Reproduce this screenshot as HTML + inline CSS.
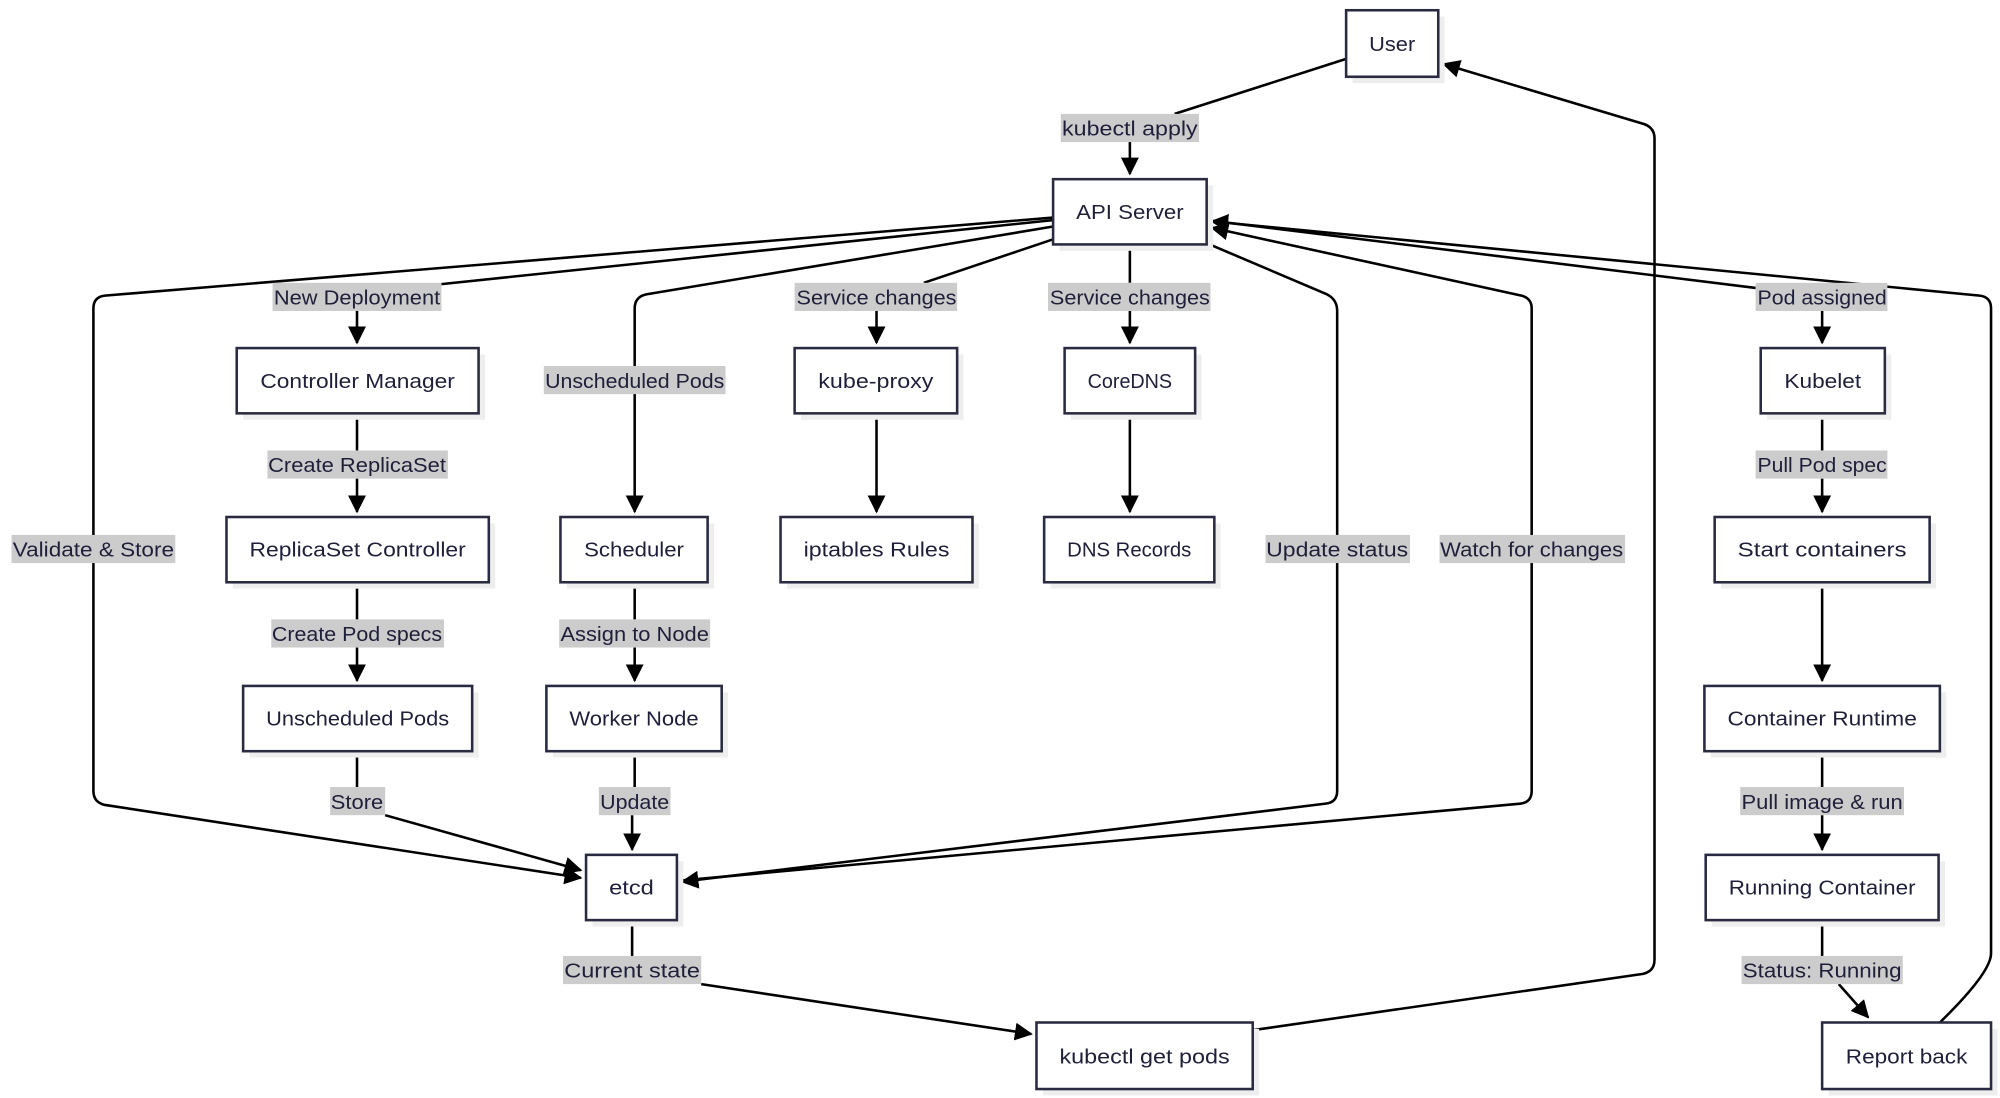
<!DOCTYPE html>
<html><head><meta charset="utf-8"><style>
html,body{margin:0;padding:0;background:#fff;}
svg{display:block;}
text{font-family:"Liberation Sans",sans-serif;font-size:16px;fill:#1f1f3a;}
</style></head><body>
<svg width="2000" height="1098" viewBox="0 0 1563 858" preserveAspectRatio="none" xmlns="http://www.w3.org/2000/svg">
<defs>
<marker id="a" markerUnits="userSpaceOnUse" markerWidth="14" markerHeight="14" viewBox="0 0 12 12" refX="11" refY="6" orient="auto">
<path d="M0,0 L12,6 L0,12 z" fill="#000"/>
</marker>
</defs>
<g fill="none" stroke="#000" stroke-width="2">
<path d="M1052,46 L918,89"/>
<path d="M883,111 L883,136" marker-end="url(#a)"/>
<path d="M823,172 L345,222"/>
<path d="M279,243 L279,268" marker-end="url(#a)"/>
<path d="M823,170 L82,231 Q73,232 73,241 L73,618 Q73,627 82,629 L454,686" marker-end="url(#a)"/>
<path d="M823,177 L505,230 Q496,232 496,241 L496,400" marker-end="url(#a)"/>
<path d="M823,187 L722,221"/>
<path d="M685,243 L685,268" marker-end="url(#a)"/>
<path d="M883,191 L883,221"/>
<path d="M883,243 L883,268" marker-end="url(#a)"/>
<path d="M943,172 L1372,225"/>
<path d="M1424,243 L1424,268" marker-end="url(#a)"/>
<path d="M943,190 L1037,230 Q1045,234 1045,243 L1045,618 Q1045,627 1036,628 L533,689" marker-end="url(#a)"/>
<path d="M533,688 L1188,628 Q1197,627 1197,618 L1197,241 Q1197,233 1189,231 L947,178" marker-end="url(#a)"/>
<path d="M1516,799 Q1556,760 1556,745 L1556,241 Q1556,232 1547,231 L947,173" marker-end="url(#a)"/>
<path d="M279,323 L279,352"/>
<path d="M279,374 L279,400" marker-end="url(#a)"/>
<path d="M279,455 L279,484"/>
<path d="M279,506 L279,532" marker-end="url(#a)"/>
<path d="M279,587 L279,615"/>
<path d="M301,637 L454,680" marker-end="url(#a)"/>
<path d="M496,455 L496,484"/>
<path d="M496,506 L496,532" marker-end="url(#a)"/>
<path d="M496,587 L496,615"/>
<path d="M494,637 L494,664" marker-end="url(#a)"/>
<path d="M685,323 L685,400" marker-end="url(#a)"/>
<path d="M883,323 L883,400" marker-end="url(#a)"/>
<path d="M1424,323 L1424,352"/>
<path d="M1424,374 L1424,400" marker-end="url(#a)"/>
<path d="M1424,455 L1424,532" marker-end="url(#a)"/>
<path d="M1424,587 L1424,615"/>
<path d="M1424,637 L1424,664" marker-end="url(#a)"/>
<path d="M1424,719 L1424,747"/>
<path d="M1437,769 L1460,795" marker-end="url(#a)"/>
<path d="M494,719 L494,747"/>
<path d="M548,769 L806,808" marker-end="url(#a)"/>
<path d="M979,805 L1284,761 Q1293,759 1293,750 L1293,108 Q1293,100 1285,97 L1128,50" marker-end="url(#a)"/>
</g>
<g fill="#cccccc">
<rect x="829" y="89" width="108" height="22"/>
<rect x="213" y="221" width="132" height="22"/>
<rect x="425" y="286" width="142" height="22"/>
<rect x="621" y="221" width="127" height="22"/>
<rect x="819" y="221" width="127" height="22"/>
<rect x="1372" y="221" width="103" height="22"/>
<rect x="209" y="352" width="141" height="22"/>
<rect x="1372" y="352" width="103" height="22"/>
<rect x="9" y="418" width="128" height="22"/>
<rect x="989" y="418" width="113" height="22"/>
<rect x="1125" y="418" width="145" height="22"/>
<rect x="212" y="484" width="135" height="22"/>
<rect x="437" y="484" width="118" height="22"/>
<rect x="258" y="615" width="43" height="22"/>
<rect x="468" y="615" width="56" height="22"/>
<rect x="1360" y="615" width="128" height="22"/>
<rect x="440" y="747" width="108" height="22"/>
<rect x="1361" y="747" width="126" height="22"/>
</g>
<g text-anchor="middle" lengthAdjust="spacingAndGlyphs">
<text x="883" y="106" textLength="106" lengthAdjust="spacingAndGlyphs">kubectl apply</text>
<text x="279" y="238" textLength="130" lengthAdjust="spacingAndGlyphs">New Deployment</text>
<text x="496" y="303" textLength="140" lengthAdjust="spacingAndGlyphs">Unscheduled Pods</text>
<text x="685" y="238" textLength="125" lengthAdjust="spacingAndGlyphs">Service changes</text>
<text x="883" y="238" textLength="125" lengthAdjust="spacingAndGlyphs">Service changes</text>
<text x="1424" y="238" textLength="101" lengthAdjust="spacingAndGlyphs">Pod assigned</text>
<text x="279" y="369" textLength="139" lengthAdjust="spacingAndGlyphs">Create ReplicaSet</text>
<text x="1424" y="369" textLength="101" lengthAdjust="spacingAndGlyphs">Pull Pod spec</text>
<text x="73" y="435" textLength="126" lengthAdjust="spacingAndGlyphs">Validate &amp; Store</text>
<text x="1045" y="435" textLength="111" lengthAdjust="spacingAndGlyphs">Update status</text>
<text x="1197" y="435" textLength="143" lengthAdjust="spacingAndGlyphs">Watch for changes</text>
<text x="279" y="501" textLength="133" lengthAdjust="spacingAndGlyphs">Create Pod specs</text>
<text x="496" y="501" textLength="116" lengthAdjust="spacingAndGlyphs">Assign to Node</text>
<text x="279" y="632" textLength="41" lengthAdjust="spacingAndGlyphs">Store</text>
<text x="496" y="632" textLength="54" lengthAdjust="spacingAndGlyphs">Update</text>
<text x="1424" y="632" textLength="126" lengthAdjust="spacingAndGlyphs">Pull image &amp; run</text>
<text x="494" y="764" textLength="106" lengthAdjust="spacingAndGlyphs">Current state</text>
<text x="1424" y="764" textLength="124" lengthAdjust="spacingAndGlyphs">Status: Running</text>
</g>
<g fill="#eeeeee">
<rect x="1057" y="13" width="72" height="52"/>
<rect x="828" y="145" width="120" height="51"/>
<rect x="190" y="277" width="189" height="51"/>
<rect x="626" y="277" width="127" height="51"/>
<rect x="837" y="277" width="102" height="51"/>
<rect x="1381" y="277" width="97" height="51"/>
<rect x="182" y="409" width="205" height="51"/>
<rect x="443" y="409" width="115" height="51"/>
<rect x="615" y="409" width="150" height="51"/>
<rect x="821" y="409" width="133" height="51"/>
<rect x="1345" y="409" width="168" height="51"/>
<rect x="195" y="541" width="179" height="51"/>
<rect x="432" y="541" width="137" height="51"/>
<rect x="1337" y="541" width="184" height="51"/>
<rect x="463" y="673" width="71" height="51"/>
<rect x="1338" y="673" width="182" height="51"/>
<rect x="815" y="804" width="169" height="52"/>
<rect x="1429" y="804" width="132" height="52"/>
</g>
<g fill="#fff" stroke="#2a2a40" stroke-width="2">
<rect x="1052" y="8" width="72" height="52"/>
<rect x="823" y="140" width="120" height="51"/>
<rect x="185" y="272" width="189" height="51"/>
<rect x="621" y="272" width="127" height="51"/>
<rect x="832" y="272" width="102" height="51"/>
<rect x="1376" y="272" width="97" height="51"/>
<rect x="177" y="404" width="205" height="51"/>
<rect x="438" y="404" width="115" height="51"/>
<rect x="610" y="404" width="150" height="51"/>
<rect x="816" y="404" width="133" height="51"/>
<rect x="1340" y="404" width="168" height="51"/>
<rect x="190" y="536" width="179" height="51"/>
<rect x="427" y="536" width="137" height="51"/>
<rect x="1332" y="536" width="184" height="51"/>
<rect x="458" y="668" width="71" height="51"/>
<rect x="1333" y="668" width="182" height="51"/>
<rect x="810" y="799" width="169" height="52"/>
<rect x="1424" y="799" width="132" height="52"/>
</g>
<g text-anchor="middle">
<text x="1088" y="40" textLength="36" lengthAdjust="spacingAndGlyphs">User</text>
<text x="883" y="171" textLength="84" lengthAdjust="spacingAndGlyphs">API Server</text>
<text x="279.5" y="303" textLength="152" lengthAdjust="spacingAndGlyphs">Controller Manager</text>
<text x="684.5" y="303" textLength="90" lengthAdjust="spacingAndGlyphs">kube-proxy</text>
<text x="883" y="303" textLength="66" lengthAdjust="spacingAndGlyphs">CoreDNS</text>
<text x="1424.5" y="303" textLength="60" lengthAdjust="spacingAndGlyphs">Kubelet</text>
<text x="279.5" y="435" textLength="169" lengthAdjust="spacingAndGlyphs">ReplicaSet Controller</text>
<text x="495.5" y="435" textLength="78" lengthAdjust="spacingAndGlyphs">Scheduler</text>
<text x="685" y="435" textLength="114" lengthAdjust="spacingAndGlyphs">iptables Rules</text>
<text x="882.5" y="435" textLength="97" lengthAdjust="spacingAndGlyphs">DNS Records</text>
<text x="1424" y="435" textLength="132" lengthAdjust="spacingAndGlyphs">Start containers</text>
<text x="279.5" y="567" textLength="143" lengthAdjust="spacingAndGlyphs">Unscheduled Pods</text>
<text x="495.5" y="567" textLength="101" lengthAdjust="spacingAndGlyphs">Worker Node</text>
<text x="1424" y="567" textLength="148" lengthAdjust="spacingAndGlyphs">Container Runtime</text>
<text x="493.5" y="699" textLength="35" lengthAdjust="spacingAndGlyphs">etcd</text>
<text x="1424" y="699" textLength="146" lengthAdjust="spacingAndGlyphs">Running Container</text>
<text x="894.5" y="831" textLength="133" lengthAdjust="spacingAndGlyphs">kubectl get pods</text>
<text x="1490" y="831" textLength="95" lengthAdjust="spacingAndGlyphs">Report back</text>
</g>
</svg>
</body></html>
